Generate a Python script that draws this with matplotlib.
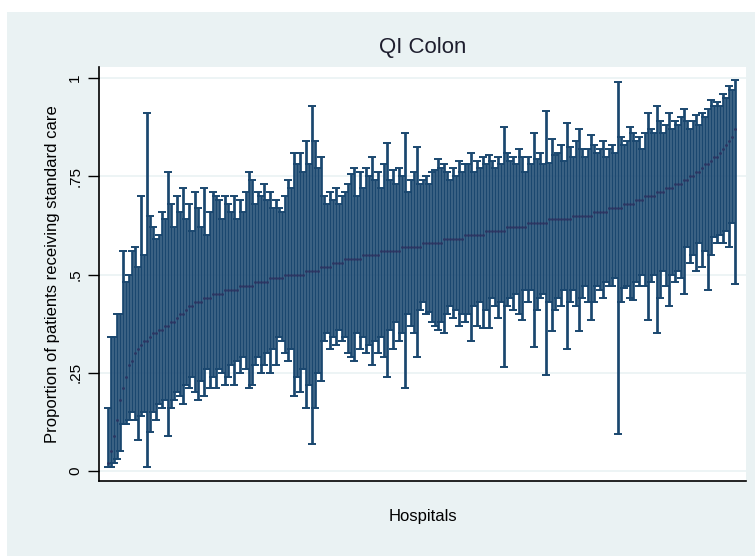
import numpy as np
import matplotlib as mpl
mpl.use("Agg")
import matplotlib.pyplot as plt
from matplotlib.patches import Rectangle

# hospital estimates, sorted (proportion receiving standard care)
est = [0.02, 0.05, 0.09, 0.13, 0.18, 0.21, 0.24, 0.27, 0.28, 0.30,
       0.31, 0.32, 0.33, 0.33, 0.34, 0.35, 0.35, 0.36, 0.36, 0.37,
       0.37, 0.38, 0.38, 0.39, 0.40, 0.40, 0.41, 0.42, 0.42, 0.43,
       0.43, 0.43, 0.44, 0.44, 0.44, 0.45, 0.45, 0.45, 0.45, 0.46,
       0.46, 0.46, 0.46, 0.46, 0.47, 0.47, 0.47, 0.47, 0.47, 0.48,
       0.48, 0.48, 0.48, 0.48, 0.49, 0.49, 0.49, 0.49, 0.49, 0.50,
       0.50, 0.50, 0.50, 0.50, 0.50, 0.50, 0.51, 0.51, 0.51, 0.51,
       0.51, 0.52, 0.52, 0.52, 0.52, 0.53, 0.53, 0.53, 0.53, 0.54,
       0.54, 0.54, 0.54, 0.54, 0.54, 0.55, 0.55, 0.55, 0.55, 0.55,
       0.55, 0.56, 0.56, 0.56, 0.56, 0.56, 0.56, 0.56, 0.57, 0.57,
       0.57, 0.57, 0.57, 0.57, 0.57, 0.58, 0.58, 0.58, 0.58, 0.58,
       0.58, 0.58, 0.59, 0.59, 0.59, 0.59, 0.59, 0.59, 0.59, 0.60,
       0.60, 0.60, 0.60, 0.60, 0.60, 0.60, 0.61, 0.61, 0.61, 0.61,
       0.61, 0.61, 0.61, 0.62, 0.62, 0.62, 0.62, 0.62, 0.62, 0.62,
       0.63, 0.63, 0.63, 0.63, 0.63, 0.63, 0.63, 0.64, 0.64, 0.64,
       0.64, 0.64, 0.64, 0.64, 0.64, 0.65, 0.65, 0.65, 0.65, 0.65,
       0.65, 0.65, 0.66, 0.66, 0.66, 0.66, 0.66, 0.67, 0.67, 0.67,
       0.67, 0.67, 0.68, 0.68, 0.68, 0.68, 0.69, 0.69, 0.69, 0.70,
       0.70, 0.70, 0.70, 0.71, 0.71, 0.71, 0.72, 0.72, 0.72, 0.73,
       0.73, 0.73, 0.74, 0.74, 0.75, 0.75, 0.76, 0.76, 0.77, 0.78,
       0.78, 0.79, 0.80, 0.80, 0.81, 0.82, 0.83, 0.84, 0.85, 0.87]

lower = [0.01, 0.01, 0.02, 0.03, 0.05, 0.12, 0.12, 0.13, 0.15, 0.13,
         0.08, 0.14, 0.15, 0.01, 0.10, 0.15, 0.13, 0.17, 0.16, 0.18,
         0.09, 0.16, 0.18, 0.20, 0.19, 0.17, 0.22, 0.21, 0.24, 0.20,
         0.18, 0.23, 0.19, 0.26, 0.21, 0.24, 0.21, 0.26, 0.25, 0.22,
         0.24, 0.27, 0.22, 0.28, 0.25, 0.29, 0.26, 0.21, 0.22, 0.27,
         0.29, 0.25, 0.27, 0.30, 0.25, 0.31, 0.27, 0.34, 0.33, 0.30,
         0.28, 0.31, 0.19, 0.24, 0.20, 0.26, 0.16, 0.22, 0.07, 0.16,
         0.25, 0.23, 0.33, 0.35, 0.31, 0.34, 0.32, 0.36, 0.33, 0.34,
         0.30, 0.29, 0.28, 0.35, 0.31, 0.34, 0.30, 0.32, 0.27, 0.33,
         0.30, 0.34, 0.29, 0.24, 0.36, 0.31, 0.38, 0.33, 0.35, 0.21,
         0.40, 0.37, 0.35, 0.29, 0.41, 0.43, 0.40, 0.405, 0.38, 0.37,
         0.36, 0.38, 0.35, 0.40, 0.42, 0.39, 0.41, 0.37, 0.40, 0.38,
         0.40, 0.33, 0.42, 0.37, 0.43, 0.365, 0.41, 0.365, 0.44, 0.42,
         0.39, 0.43, 0.265, 0.42, 0.44, 0.41, 0.45, 0.40, 0.385, 0.46,
         0.43, 0.46, 0.315, 0.41, 0.44, 0.45, 0.245, 0.43, 0.355, 0.41,
         0.44, 0.42, 0.46, 0.31, 0.43, 0.46, 0.42, 0.355, 0.44, 0.47,
         0.43, 0.385, 0.43, 0.47, 0.46, 0.44, 0.48, 0.47, 0.47, 0.49,
         0.095, 0.43, 0.465, 0.47, 0.44, 0.435, 0.48, 0.47, 0.50, 0.47,
         0.385, 0.48, 0.50, 0.35, 0.44, 0.51, 0.47, 0.42, 0.50, 0.48,
         0.51, 0.49, 0.45, 0.57, 0.53, 0.55, 0.51, 0.58, 0.52, 0.56,
         0.46, 0.55, 0.595, 0.58, 0.60, 0.58, 0.61, 0.57, 0.63, 0.475]

upper = [0.16, 0.34, 0.34, 0.40, 0.40, 0.56, 0.48, 0.50, 0.56, 0.57,
         0.52, 0.70, 0.55, 0.91, 0.65, 0.62, 0.59, 0.60, 0.66, 0.64,
         0.76, 0.68, 0.62, 0.70, 0.66, 0.72, 0.64, 0.68, 0.61, 0.71,
         0.67, 0.62, 0.72, 0.60, 0.66, 0.71, 0.70, 0.69, 0.64, 0.70,
         0.68, 0.66, 0.70, 0.64, 0.69, 0.66, 0.71, 0.76, 0.74, 0.68,
         0.71, 0.70, 0.73, 0.69, 0.71, 0.67, 0.69, 0.67, 0.66, 0.70,
         0.74, 0.72, 0.81, 0.78, 0.81, 0.76, 0.84, 0.78, 0.93, 0.84,
         0.77, 0.80, 0.70, 0.68, 0.71, 0.69, 0.72, 0.68, 0.70, 0.71,
         0.73, 0.755, 0.77, 0.70, 0.76, 0.72, 0.77, 0.75, 0.80, 0.74,
         0.76, 0.72, 0.78, 0.835, 0.74, 0.765, 0.73, 0.77, 0.75, 0.86,
         0.71, 0.74, 0.76, 0.825, 0.73, 0.74, 0.75, 0.73, 0.76, 0.765,
         0.795, 0.77, 0.78, 0.76, 0.74, 0.77, 0.75, 0.79, 0.76, 0.78,
         0.78, 0.81, 0.76, 0.79, 0.77, 0.80, 0.78, 0.805, 0.79, 0.77,
         0.80, 0.78, 0.875, 0.81, 0.79, 0.80, 0.78, 0.82, 0.80, 0.76,
         0.80, 0.78, 0.86, 0.795, 0.81, 0.78, 0.915, 0.785, 0.845, 0.805,
         0.81, 0.83, 0.79, 0.885, 0.825, 0.80, 0.84, 0.87, 0.82, 0.80,
         0.82, 0.855, 0.83, 0.81, 0.82, 0.84, 0.80, 0.82, 0.83, 0.81,
         0.99, 0.85, 0.83, 0.84, 0.875, 0.86, 0.84, 0.85, 0.82, 0.86,
         0.91, 0.87, 0.86, 0.93, 0.89, 0.86, 0.88, 0.91, 0.87, 0.89,
         0.88, 0.90, 0.92, 0.89, 0.87, 0.89, 0.905, 0.88, 0.91, 0.90,
         0.92, 0.945, 0.93, 0.94, 0.93, 0.96, 0.95, 0.98, 0.97, 0.995]

ytick_vals = [0, 0.25, 0.5, 0.75, 1]
ytick_labels = ["0", ".25", ".5", ".75", "1"]

navy = "#1a476f"
bg = "#eaf2f3"

plt.rcParams['font.family'] = ['Liberation Sans', 'DejaVu Sans']

fig = plt.figure(figsize=(7.55, 5.56), dpi=100, facecolor=bg)
# thin white margin (top and left) as in the screenshot
fig.patches.append(Rectangle((0, 1 - 12 / 556), 1, 12 / 556,
                             transform=fig.transFigure, facecolor="white",
                             edgecolor="none", zorder=-5))
fig.patches.append(Rectangle((0, 0), 7 / 755, 1,
                             transform=fig.transFigure, facecolor="white",
                             edgecolor="none", zorder=-5))

ax = fig.add_axes([99 / 755, 1 - 481 / 556, (746 - 99) / 755, (481 - 67) / 556])
ax.set_facecolor("white")

est = np.array(est)
lower = np.array(lower)
upper = np.array(upper)
x = np.arange(len(est))

ax.errorbar(x, est, yerr=[est - lower, upper - est], fmt="none",
            ecolor=navy, elinewidth=1.95, capsize=2.6, capthick=1.4, zorder=3)
ax.scatter(x, est, s=4, color="#2a3360", zorder=4, linewidths=0)

ax.set_xlim(-3, 212.7)
ax.set_ylim(-0.0254, 1.028)
ax.set_xticks([])
ax.set_yticks(ytick_vals)
ax.set_yticklabels(ytick_labels, rotation=90, va="center", fontsize=11)
ax.tick_params(axis="y", length=8, width=1, pad=4)
ax.yaxis.grid(True, color=bg, linewidth=1.2, zorder=0)
ax.set_axisbelow(True)

for s in ["top", "right"]:
    ax.spines[s].set_visible(False)
for s in ["left", "bottom"]:
    ax.spines[s].set_linewidth(1.2)
    ax.spines[s].set_color("black")

ax.set_title("QI Colon", fontsize=16, color="#1e1e2e", pad=10)
ax.set_ylabel("Proportion of patients receiving standard care", fontsize=12, labelpad=6)
ax.set_xlabel("Hospitals", fontsize=12, labelpad=20)

fig.savefig("out.png", dpi=100, facecolor=fig.get_facecolor())
